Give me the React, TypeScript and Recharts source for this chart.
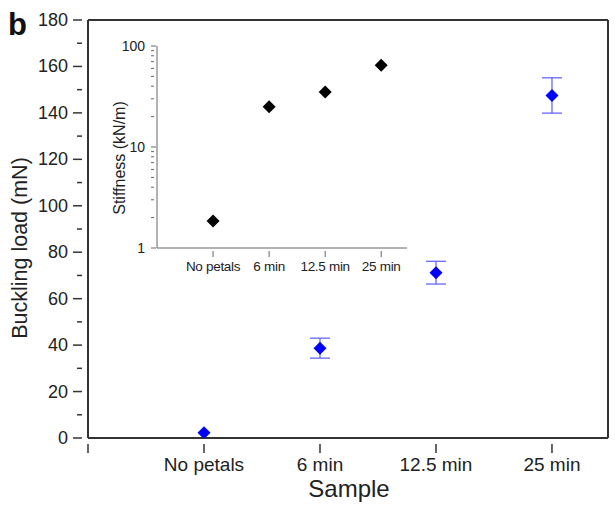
import { ScatterChart, Scatter, XAxis, YAxis, ErrorBar, ReferenceLine } from 'recharts';

const categories = ['No petals', '6 min', '12.5 min', '25 min'];
const bucklingLoad = [2.3, 38.7, 71.2, 147.5];
const bucklingErr = [0, 4.3, 4.9, 7.6];
const stiffness = [1.85, 25, 35, 64.5];
const stiffnessErr = [0.08, 2.5, 1.8, 2.5];

const mainYTicks = [0, 10, 20, 30, 40, 50, 60, 70, 80, 90, 100, 110, 120, 130, 140, 150, 160, 170, 180];
const mainXTicks = [0, 1, 2, 3, 4];
const insetXTicks = [1, 2, 3, 4];
const insetYTicks = [1, 2, 3, 4, 5, 6, 7, 8, 9, 10, 20, 30, 40, 50, 60, 70, 80, 90, 100];
const insetYLabels = [1, 10, 100];

const font = '"Liberation Sans", Arial, sans-serif';
const xMax = 4.483;

const mainData = categories.map((c, i) => ({ x: i + 1, y: bucklingLoad[i], err: bucklingErr[i], name: c }));
const insetData = categories.map((c, i) => ({ x: i + 1, y: stiffness[i], err: stiffnessErr[i], name: c }));

function Diamond(props: any) {
    const { cx, cy, fill } = props;
    if (cx == null || cy == null) return null;
    const r = 6.5;
    return <polygon points={`${cx},${cy - r} ${cx + r},${cy} ${cx},${cy + r} ${cx - r},${cy}`} fill={fill} />;
}

function MainYTick({ x, y, payload }: any) {
    const major = payload.value % 20 === 0;
    return (
        <g>
            <line x1={x} x2={x - (major ? 9 : 5)} y1={y} y2={y} stroke="#333" strokeWidth={1.5} />
            {major && (
                <text x={x - 14} y={y} dy={6} textAnchor="end" fontSize={18} fill="#222" fontFamily={font}>
                    {payload.value}
                </text>
            )}
        </g>
    );
}

function MainXTick({ x, y, payload }: any) {
    const label = categories[payload.value - 1] ?? '';
    return (
        <g>
            <line x1={x} x2={x} y1={y} y2={y + 9} stroke="#333" strokeWidth={1.5} />
            <text x={x} y={y + 27} textAnchor="middle" fontSize={19} fill="#222" fontFamily={font}>
                {label}
            </text>
        </g>
    );
}

function InsetYTick({ x, y, payload }: any) {
    const major = insetYLabels.includes(payload.value);
    return (
        <g>
            <line x1={x} x2={x + (major ? 5 : 3)} y1={y} y2={y} stroke="#666" strokeWidth={1} />
            {major && (
                <text x={x - 6} y={y} dy={5} textAnchor="end" fontSize={14} fill="#222" fontFamily={font}>
                    {payload.value}
                </text>
            )}
        </g>
    );
}

function InsetYTickRight({ x, y, payload }: any) {
    const major = insetYLabels.includes(payload.value);
    return <line x1={x} x2={x - (major ? 5 : 3)} y1={y} y2={y} stroke="#666" strokeWidth={1} />;
}

function InsetXTick({ x, y, payload }: any) {
    const label = categories[payload.value - 1] ?? '';
    return (
        <g>
            <line x1={x} x2={x} y1={y - 3} y2={y + 3} stroke="#666" strokeWidth={1} />
            <text x={x} y={y + 17} textAnchor="middle" fontSize={13.5} fill="#222" fontFamily={font} letterSpacing={-0.3}>
                {label}
            </text>
        </g>
    );
}

export default function App() {
    return (
        <div style={{ position: 'absolute', left: 0, top: 0, width: 615, height: 505, background: '#fff', fontFamily: font }}>
            <ScatterChart width={615} height={505} margin={{ top: 20, right: 7, bottom: 0, left: 0 }}>
                <XAxis
                    type="number"
                    dataKey="x"
                    domain={[0, xMax]}
                    ticks={mainXTicks}
                    allowDataOverflow
                    height={67}
                    tickLine={false}
                    tickMargin={0}
                    tick={<MainXTick />}
                    axisLine={{ stroke: '#333', strokeWidth: 2 }}
                />
                <YAxis
                    type="number"
                    dataKey="y"
                    domain={[0, 180]}
                    ticks={mainYTicks}
                    interval={0}
                    allowDataOverflow
                    width={88}
                    tickLine={false}
                    tickMargin={0}
                    tick={<MainYTick />}
                    axisLine={{ stroke: '#333', strokeWidth: 2 }}
                />
                {/* frame around the main plot */}
                <ReferenceLine x={0} stroke="#333" strokeWidth={2} ifOverflow="visible" />
                <ReferenceLine x={xMax} stroke="#333" strokeWidth={2} ifOverflow="visible" />
                <ReferenceLine y={180} stroke="#333" strokeWidth={2} ifOverflow="visible" />
                <Scatter data={mainData} fill="#0000ff" shape={<Diamond />} isAnimationActive={false}>
                    <ErrorBar dataKey="err" direction="y" width={10} stroke="#5a5aff" strokeWidth={1.2} />
                </Scatter>
            </ScatterChart>

            <div style={{ position: 'absolute', left: 100, top: 30, width: 315, height: 250 }}>
                <ScatterChart width={315} height={250} margin={{ top: 16, right: 8, bottom: 0, left: 0 }}>
                    <XAxis
                        type="number"
                        dataKey="x"
                        domain={[0, 4.46]}
                        ticks={insetXTicks}
                        allowDataOverflow
                        height={32}
                        tickLine={false}
                        tickMargin={0}
                        tick={<InsetXTick />}
                        axisLine={{ stroke: '#666', strokeWidth: 1 }}
                    />
                    <XAxis xAxisId="top" orientation="top" type="number" domain={[0, 4.46]} height={0} tick={false} tickLine={false} axisLine={{ stroke: '#666', strokeWidth: 1 }} />
                    <YAxis
                        type="number"
                        dataKey="y"
                        scale="log"
                        domain={[1, 100]}
                        ticks={insetYTicks}
                        interval={0}
                        allowDataOverflow
                        width={57}
                        tickLine={false}
                        tickMargin={0}
                        tick={<InsetYTick />}
                        axisLine={{ stroke: '#666', strokeWidth: 1 }}
                    />
                    <YAxis
                        yAxisId="right"
                        orientation="right"
                        type="number"
                        scale="log"
                        domain={[1, 100]}
                        ticks={insetYTicks}
                        interval={0}
                        allowDataOverflow
                        width={0}
                        tickLine={false}
                        tickMargin={0}
                        tick={<InsetYTickRight />}
                        axisLine={{ stroke: '#666', strokeWidth: 1 }}
                    />
                    <Scatter data={insetData} fill="#000" shape={<Diamond />} isAnimationActive={false}>
                        <ErrorBar dataKey="err" direction="y" width={0} stroke="#999" strokeWidth={1} />
                    </Scatter>
                </ScatterChart>
            </div>

            <svg width={615} height={505} style={{ position: 'absolute', left: 0, top: 0, pointerEvents: 'none' }}>
                <text x={8} y={35} fontSize={31} fontWeight="bold" fill="#111" fontFamily={font}>b</text>
                <text x={27} y={248} transform="rotate(-90, 27, 248)" textAnchor="middle" fontSize={21.5} fill="#222" fontFamily={font}>
                    Buckling load (mN)
                </text>
                <text x={349} y={497} textAnchor="middle" fontSize={24} fill="#222" fontFamily={font}>Sample</text>
                <text x={125} y={158} transform="rotate(-90, 125, 158)" textAnchor="middle" fontSize={16} fill="#222" fontFamily={font}>
                    Stiffness (kN/m)
                </text>
            </svg>
        </div>
    );
}
